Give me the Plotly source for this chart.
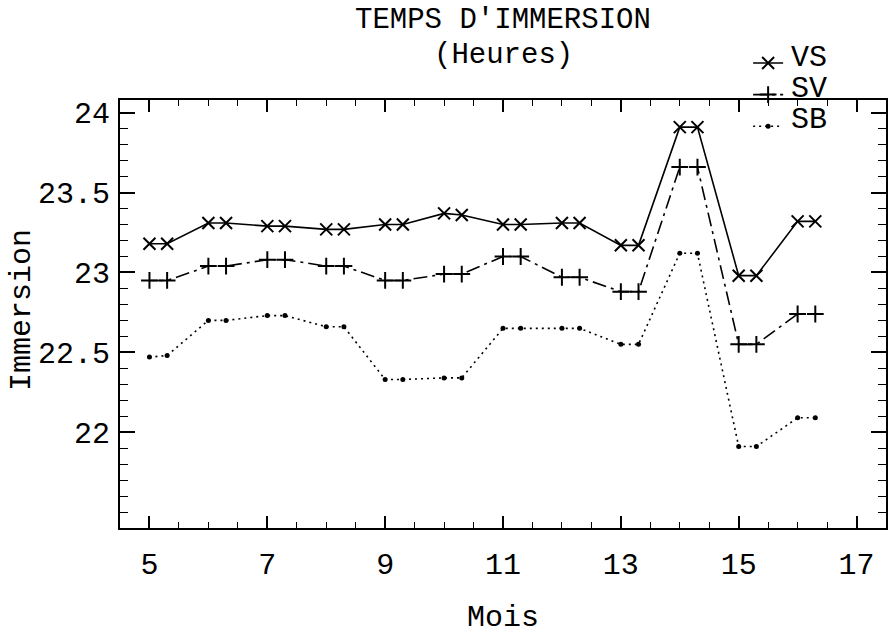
import plotly.graph_objects as go

# Data
mois = [5, 5.3, 6, 6.3, 7, 7.3, 8, 8.3, 9, 9.3, 10, 10.3,
        11, 11.3, 12, 12.3, 13, 13.3, 14, 14.3, 15, 15.3, 16, 16.3]
vs = [23.18, 23.18, 23.31, 23.31, 23.29, 23.29, 23.27, 23.27, 23.30, 23.30, 23.37, 23.36,
      23.30, 23.30, 23.31, 23.31, 23.17, 23.17, 23.91, 23.91, 22.98, 22.98, 23.32, 23.32]
sv = [22.95, 22.95, 23.04, 23.04, 23.08, 23.08, 23.04, 23.04, 22.95, 22.95, 22.99, 22.99,
      23.10, 23.10, 22.97, 22.97, 22.88, 22.88, 23.66, 23.66, 22.55, 22.55, 22.74, 22.74]
sb = [22.47, 22.48, 22.70, 22.70, 22.73, 22.73, 22.66, 22.66, 22.33, 22.33, 22.34, 22.34,
      22.65, 22.65, 22.65, 22.65, 22.55, 22.55, 23.12, 23.12, 21.91, 21.91, 22.09, 22.09]
series_names = ["VS", "SV", "SB"]
x_ticks = [5, 7, 9, 11, 13, 15, 17]
y_ticks = [22, 22.5, 23, 23.5, 24]

FONT = "Liberation Mono"
fig = go.Figure()
fig.add_trace(go.Scatter(x=mois, y=vs, name=" ", mode="lines+markers",
                         line=dict(color="black", width=1.6, dash="solid"),
                         marker=dict(symbol="x-thin-open", size=12, line=dict(color="black", width=2))))
fig.add_trace(go.Scatter(x=mois, y=sv, name="  ", mode="lines+markers",
                         line=dict(color="black", width=1.6, dash="14px,5px,3px,5px"),
                         marker=dict(symbol="cross-thin-open", size=12, line=dict(color="black", width=2))))
fig.add_trace(go.Scatter(x=mois, y=sb, name="   ", mode="lines+markers",
                         line=dict(color="black", width=1.6, dash="2px,4px"),
                         marker=dict(symbol="circle", size=5, color="black")))

axis_common = dict(showgrid=False, zeroline=False, showline=True, linecolor="black",
                   linewidth=2, mirror="allticks", ticks="inside", tickcolor="black",
                   tickwidth=1.5, tickfont=dict(family=FONT, size=30, color="black"))

fig.update_xaxes(range=[4.5, 17.5], tickvals=x_ticks, ticklen=12, ticklabelstandoff=8,
                 minor=dict(dtick=0.5, ticks="inside", ticklen=6, tickcolor="black", tickwidth=1.2),
                 **axis_common)
fig.update_yaxes(range=[21.4, 24.08], tickvals=y_ticks, ticktext=["22", "22.5", "23", "23.5", "24"],
                 ticklen=15, ticklabelstandoff=2,
                 minor=dict(dtick=0.1, ticks="inside", ticklen=8, tickcolor="black", tickwidth=1.2),
                 **axis_common)

txt = dict(xref="paper", yref="paper", showarrow=False, font=dict(family=FONT, size=29, color="black"))
fig.add_annotation(text="TEMPS D'IMMERSION", x=0.5, y=1.185, xanchor="center", yanchor="middle", **txt)
fig.add_annotation(text="(Heures)", x=0.5, y=1.105, xanchor="center", yanchor="middle", **txt)
fig.add_annotation(text="Mois", x=0.5, y=-0.21, xanchor="center", yanchor="middle",
                   xref="paper", yref="paper", showarrow=False,
                   font=dict(family=FONT, size=30, color="black"))
fig.add_annotation(text="Immersion", x=-0.128, y=0.509, xanchor="center", yanchor="middle",
                   textangle=-90, xref="paper", yref="paper", showarrow=False,
                   font=dict(family=FONT, size=30, color="black"))
# legend labels
for i, nm in enumerate(series_names):
    fig.add_annotation(text=nm, x=0.873, y=1.098 - i * 0.0725, xanchor="left", yanchor="middle",
                       xref="paper", yref="paper", showarrow=False,
                       font=dict(family=FONT, size=30, color="black"))

fig.update_layout(
    width=890, height=637,
    margin=dict(l=120, r=2, t=100, b=109),
    paper_bgcolor="white", plot_bgcolor="white",
    legend=dict(x=0.82, y=1.135, xanchor="left", yanchor="top", bgcolor="rgba(0,0,0,0)",
                font=dict(family=FONT, size=22, color="black"), tracegroupgap=0,
                itemwidth=30),
    showlegend=True,
)
fig.write_html("out.html")
